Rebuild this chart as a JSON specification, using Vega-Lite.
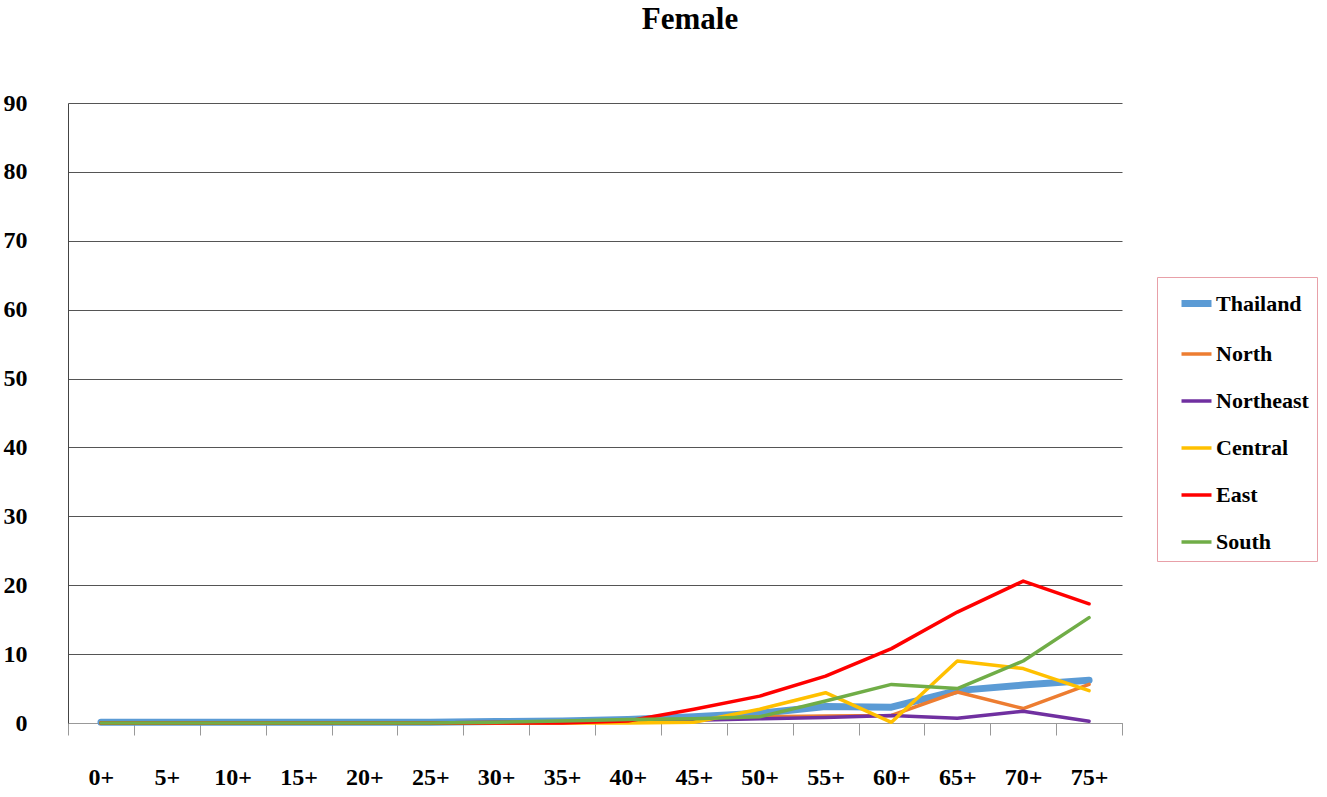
{
  "$schema": "https://vega.github.io/schema/vega-lite/v6.json",
  "autosize": "none",
  "width": 1054,
  "height": 620,
  "padding": {"left": 68, "top": 103, "right": 205, "bottom": 74},
  "background": "white",
  "title": {
    "text": "Female",
    "font": "Liberation Serif",
    "fontSize": 31,
    "fontWeight": "bold",
    "color": "black",
    "anchor": "middle",
    "frame": "group",
    "dx": 95,
    "baseline": "alphabetic",
    "offset": 31
  },
  "data": {
    "values": [
      {"age": "0+", "Thailand": 0.1, "North": 0, "Northeast": 0, "Central": 0, "East": 0, "South": 0},
      {"age": "5+", "Thailand": 0.1, "North": 0, "Northeast": 0, "Central": 0, "East": 0, "South": 0},
      {"age": "10+", "Thailand": 0.1, "North": 0, "Northeast": 0, "Central": 0, "East": 0, "South": 0},
      {"age": "15+", "Thailand": 0.1, "North": 0, "Northeast": 0, "Central": 0, "East": 0, "South": 0},
      {"age": "20+", "Thailand": 0.1, "North": 0, "Northeast": 0, "Central": 0, "East": 0, "South": 0},
      {"age": "25+", "Thailand": 0.1, "North": 0, "Northeast": 0, "Central": 0, "East": 0, "South": 0},
      {"age": "30+", "Thailand": 0.2, "North": 0.1, "Northeast": 0.1, "Central": 0, "East": 0, "South": 0.1},
      {"age": "35+", "Thailand": 0.3, "North": 0.2, "Northeast": 0.1, "Central": 0, "East": 0, "South": 0.3},
      {"age": "40+", "Thailand": 0.5, "North": 0.3, "Northeast": 0.2, "Central": 0, "East": 0.3, "South": 0.5},
      {"age": "45+", "Thailand": 0.9, "North": 0.5, "Northeast": 0.4, "Central": 0.1, "East": 2.0, "South": 0.6},
      {"age": "50+", "Thailand": 1.4, "North": 0.9, "Northeast": 0.6, "Central": 2.0, "East": 3.9, "South": 0.9},
      {"age": "55+", "Thailand": 2.4, "North": 1.0, "Northeast": 0.8, "Central": 4.4, "East": 6.8, "South": 3.2},
      {"age": "60+", "Thailand": 2.3, "North": 1.1, "Northeast": 1.1, "Central": 0.1, "East": 10.8, "South": 5.6},
      {"age": "65+", "Thailand": 4.7, "North": 4.5, "Northeast": 0.7, "Central": 9.0, "East": 16.1, "South": 5.0},
      {"age": "70+", "Thailand": 5.5, "North": 2.1, "Northeast": 1.7, "Central": 7.9, "East": 20.6, "South": 9.0},
      {"age": "75+", "Thailand": 6.2, "North": 5.6, "Northeast": 0.25, "Central": 4.7, "East": 17.3, "South": 15.3}
    ]
  },
  "transform": [
    {"fold": ["Thailand", "North", "Northeast", "Central", "East", "South"], "as": ["region", "value"]}
  ],
  "mark": {"type": "line", "strokeJoin": "round", "strokeCap": "round"},
  "encoding": {
    "x": {
      "field": "age",
      "type": "ordinal",
      "sort": null,
      "scale": {"paddingInner": 0, "paddingOuter": 0},
      "axis": {
        "title": null,
        "labelAngle": 0,
        "labelFont": "Liberation Serif",
        "labelFontSize": 24,
        "labelFontWeight": "bold",
        "labelColor": "black",
        "labelPadding": 30,
        "tickBand": "extent",
        "tickSize": 12,
        "tickColor": "#999999",
        "domainColor": "#999999",
        "grid": false
      }
    },
    "y": {
      "field": "value",
      "type": "quantitative",
      "scale": {"domain": [0, 90], "nice": false},
      "axis": {
        "title": null,
        "values": [0, 10, 20, 30, 40, 50, 60, 70, 80, 90],
        "labelFont": "Liberation Serif",
        "labelFontSize": 24,
        "labelFontWeight": "bold",
        "labelColor": "black",
        "labelPadding": 41,
        "ticks": false,
        "domainColor": "#444444",
        "gridColor": "#555555",
        "gridOpacity": 1
      }
    },
    "color": {
      "field": "region",
      "type": "nominal",
      "scale": {
        "domain": ["Thailand", "North", "Northeast", "Central", "East", "South"],
        "range": ["#5B9BD5", "#ED7D31", "#7030A0", "#FFC000", "#FF0000", "#70AD47"]
      },
      "legend": {
        "title": null,
        "orient": "none",
        "legendX": 1089,
        "legendY": 174,
        "symbolType": "stroke",
        "symbolSize": 900,
        "symbolOffset": 13,
        "labelFont": "Liberation Serif",
        "labelFontSize": 22,
        "labelFontWeight": "bold",
        "labelColor": "black",
        "labelOffset": 1,
        "rowPadding": 19,
        "padding": 8,
        "strokeColor": "#E8A0A8",
        "fillColor": "white"
      }
    },
    "strokeWidth": {
      "field": "region",
      "type": "nominal",
      "scale": {
        "type": "ordinal",
        "domain": ["Thailand", "North", "Northeast", "Central", "East", "South"],
        "range": [7, 3.5, 3.5, 3.5, 3.5, 3.5]
      },
      "legend": null
    }
  },
  "config": {"view": {"stroke": null}}
}
